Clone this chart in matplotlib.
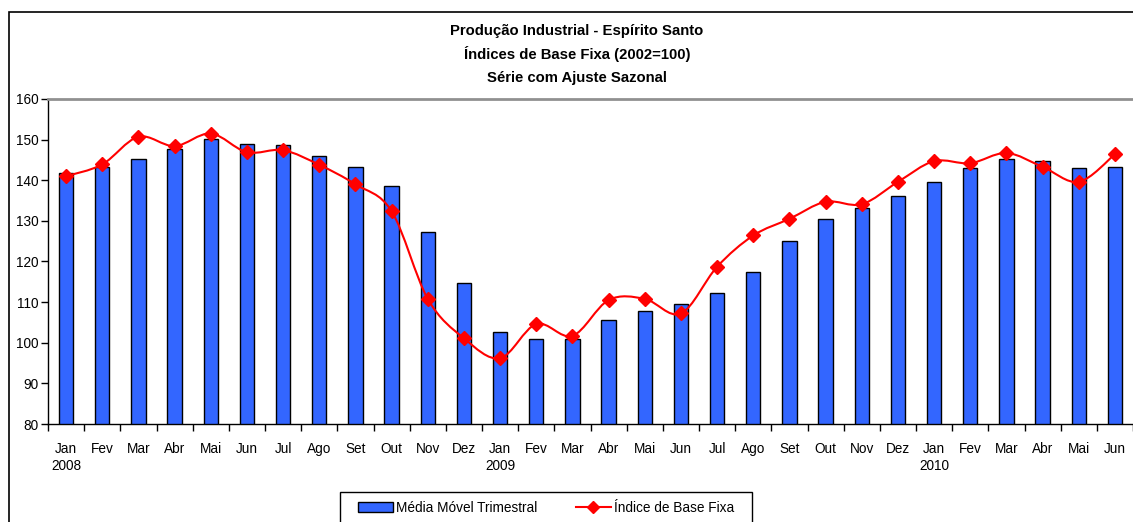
import matplotlib
matplotlib.use("Agg")
import matplotlib.pyplot as plt
from matplotlib.path import Path
from matplotlib.patches import PathPatch, Rectangle
from matplotlib.lines import Line2D
import matplotlib.transforms as mtransforms
import numpy as np

plt.rcParams['font.family'] = ['Liberation Sans', 'DejaVu Sans']

months = ["Jan", "Fev", "Mar", "Abr", "Mai", "Jun", "Jul", "Ago", "Set", "Out", "Nov", "Dez",
          "Jan", "Fev", "Mar", "Abr", "Mai", "Jun", "Jul", "Ago", "Set", "Out", "Nov", "Dez",
          "Jan", "Fev", "Mar", "Abr", "Mai", "Jun"]
years = {0: "2008", 12: "2009", 24: "2010"}

media_movel = [141.8, 143.3, 145.2, 147.7, 150.2, 149.0, 148.6, 146.0, 143.3, 138.5, 127.3, 114.8,
               102.7, 100.8, 100.8, 105.6, 107.7, 109.6, 112.3, 117.4, 125.1, 130.5, 133.2, 136.1,
               139.5, 142.9, 145.2, 144.7, 143.1, 143.2]
indice_base = [141.0, 143.9, 150.7, 148.4, 151.5, 146.9, 147.4, 143.8, 139.0, 132.4, 110.8, 101.1,
               96.2, 104.6, 101.7, 110.5, 110.8, 107.2, 118.7, 126.4, 130.5, 134.7, 134.1, 139.6,
               144.7, 144.2, 146.7, 143.3, 139.6, 146.4]

W, H = 1133, 522
fig = plt.figure(figsize=(W / 100, H / 100), dpi=100)
ax = fig.add_axes([48 / W, (H - 424) / H, (1133 - 48) / W, (424 - 99) / H])

x = np.arange(len(months))
bar_color = "#3366FF"
ax.bar(x, media_movel, width=0.4, color=bar_color, edgecolor="black", linewidth=1.0, zorder=2)

# smoothed line (Catmull-Rom as Bezier segments)
pts = np.column_stack([x, indice_base]).astype(float)
n = len(pts)
verts = [tuple(pts[0])]
codes = [Path.MOVETO]
for i in range(n - 1):
    p0 = pts[i - 1] if i > 0 else pts[i]
    p1 = pts[i]
    p2 = pts[i + 1]
    p3 = pts[i + 2] if i + 2 < n else pts[i + 1]
    c1 = p1 + (p2 - p0) / 6.0
    c2 = p2 - (p3 - p1) / 6.0
    verts += [tuple(c1), tuple(c2), tuple(p2)]
    codes += [Path.CURVE4] * 3
ax.add_patch(PathPatch(Path(verts, codes), facecolor="none", edgecolor="#FF0000", lw=1.5, zorder=3))
ax.plot(x, indice_base, linestyle="none", marker="D", markersize=7, color="#FF0000",
        markeredgecolor="#FF0000", zorder=4)

ax.set_xlim(-0.5, len(months) - 0.5)
ax.set_ylim(80, 160)
ax.set_yticks(range(80, 161, 10))
ax.tick_params(axis="y", direction="out", length=5, width=1, labelsize=9.8, pad=2, colors="black")
ax.set_xticks(x)
ax.set_xticklabels(months)
ax.set_xticks(np.arange(-0.5, len(months), 1.0), minor=True)
ax.tick_params(axis="x", which="major", length=0, labelsize=9.8, pad=13)
ax.tick_params(axis="x", which="minor", direction="out", length=5, width=1)

trans = mtransforms.blended_transform_factory(ax.transData, fig.transFigure)
for i, yr in years.items():
    ax.text(i, (H - 466) / H, yr, transform=trans, ha="center", va="center", fontsize=9.8)

ax.spines["right"].set_visible(False)
ax.spines["top"].set_color("#909090")
ax.spines["top"].set_linewidth(2)
ax.spines["left"].set_linewidth(1)
ax.spines["bottom"].set_linewidth(1)

# titles
for yy, t in [(31, "Produção Industrial - Espírito Santo"),
              (54, "Índices de Base Fixa (2002=100)"),
              (78, "Série com Ajuste Sazonal")]:
    fig.text(577 / W, (H - yy) / H, t, ha="center", va="center", fontsize=10.7, fontweight="bold")

# figure border
fig.patches.append(Rectangle((9 / W, -0.1), 1.2, (H - 12) / H + 0.1, transform=fig.transFigure,
                             facecolor="none", edgecolor="black", lw=1.2))
# legend box
fig.patches.append(Rectangle((340 / W, -0.1), (752 - 340) / W, (H - 492) / H + 0.1,
                             transform=fig.transFigure, facecolor="white", edgecolor="black", lw=1.0))
handles = [Rectangle((0, 0), 1, 1, facecolor=bar_color, edgecolor="black", lw=1.0),
           Line2D([], [], color="#FF0000", lw=1.5, marker="D", markersize=6)]
fig.legend(handles, ["Média Móvel Trimestral", "Índice de Base Fixa"], ncol=2, frameon=False,
           loc="center", bbox_to_anchor=(546 / W, (H - 508) / H), fontsize=9.8,
           handlelength=2.6, handletextpad=0.2, columnspacing=2.8, handleheight=0.7)

fig.savefig("out.png", dpi=100)
